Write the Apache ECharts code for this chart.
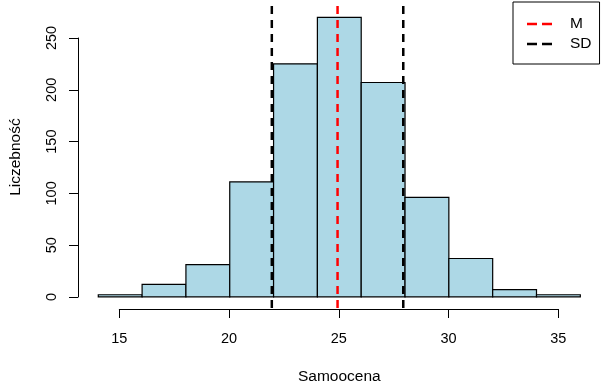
<!DOCTYPE html>
<html>
<head>
<meta charset="utf-8">
<script src="https://cdn.jsdelivr.net/npm/echarts@6/dist/echarts.min.js"></script>
<style>html,body{margin:0;padding:0;background:#fff}#c{width:614px;height:390px}</style>
</head>
<body>
<div id="c"></div>
<script>
// ---- data ----
const binStarts = [14, 16, 18, 20, 22, 24, 26, 28, 30, 32, 34];
const binEnds   = [16, 18, 20, 22, 24, 26, 28, 30, 32, 34, 36];
const counts    = [2, 12, 31, 111, 225, 270, 207, 96, 37, 7, 2];
const xTicks = [15, 20, 25, 30, 35];
const yTicks = [0, 50, 100, 150, 200, 250];
const meanVal = 24.92;
const sdVal = 3.0;
const xTitle = 'Samoocena';
const yTitle = 'Liczebność';
const legendNames = ['M', 'SD'];

// ---- plot ranges (R style 4% extension) ----
const xLo = binStarts[0], xHi = binEnds[binEnds.length - 1];
const yHi = Math.max(...counts);
const xMin = xLo - 0.04 * (xHi - xLo), xMax = xHi + 0.04 * (xHi - xLo);
const yMin = -0.04 * yHi, yMax = yHi + 0.04 * yHi;

const histData = binStarts.map((s, i) => [s, binEnds[i], counts[i]]);
const font = 'Liberation Sans, Arial, sans-serif';
const dashIcon = 'path://M0,0h10v1h-10z M15,0h10v1h-10z';

const chart = echarts.init(document.getElementById('c'), null, {renderer: 'canvas'});
const dash = [8, 6];
const option = {
  animation: false,
  backgroundColor: '#fff',
  grid: [
    {left: 78, right: 14.4, top: 6.1, bottom: 81.8},        // data grid
    {left: 119.3, right: 55.7, top: 290, bottom: 81},        // x-axis display
    {left: 78, right: 14.4, top: 38, bottom: 93}             // y-axis display
  ],
  xAxis: [
    {gridIndex: 0, type: 'value', min: xMin, max: xMax, show: true,
     axisLine: {show: false}, axisTick: {show: false}, axisLabel: {show: false}, splitLine: {show: false},
     name: xTitle, nameLocation: 'middle', nameGap: 61,
     nameTextStyle: {fontFamily: font, fontSize: 15.5, color: '#000'}},
    {gridIndex: 1, type: 'value', min: xTicks[0], max: xTicks[xTicks.length - 1], interval: 5,
     axisLine: {show: true, lineStyle: {color: '#000', width: 1}},
     axisTick: {show: true, length: 9, lineStyle: {color: '#000', width: 1}},
     axisLabel: {show: true, margin: 22, fontFamily: font, fontSize: 14.5, color: '#000'},
     splitLine: {show: false}},
    {gridIndex: 2, type: 'value', show: false, min: 0, max: 1}
  ],
  yAxis: [
    {gridIndex: 0, type: 'value', min: yMin, max: yMax, show: true,
     axisLine: {show: false}, axisTick: {show: false}, axisLabel: {show: false}, splitLine: {show: false},
     name: yTitle, nameLocation: 'middle', nameGap: 55,
     nameTextStyle: {fontFamily: font, fontSize: 15.5, color: '#000'}},
    {gridIndex: 1, type: 'value', show: false, min: 0, max: 1},
    {gridIndex: 2, type: 'value', min: yTicks[0], max: yTicks[yTicks.length - 1], interval: 50,
     axisLine: {show: true, lineStyle: {color: '#000', width: 1}},
     axisTick: {show: true, length: 9, lineStyle: {color: '#000', width: 1}},
     axisLabel: {show: true, rotate: 90, margin: 19, fontFamily: font, fontSize: 14.5, color: '#000'},
     splitLine: {show: false}}
  ],
  legend: {
    show: true, orient: 'vertical', left: 513, top: 2,
    data: legendNames.map(n => ({name: n, icon: dashIcon})),
    itemWidth: 25, itemHeight: 2.5, itemGap: 2, symbolKeepAspect: false,
    padding: [13, 8, 11, 14],
    borderColor: '#000', borderWidth: 1, borderRadius: 0,
    textStyle: {fontFamily: font, fontSize: 15.5, color: '#000', lineHeight: 18, padding: [0, 0, 0, 13]},
    selectedMode: false
  },
  series: [
    {
      type: 'custom', xAxisIndex: 0, yAxisIndex: 0, clip: true,
      data: histData,
      encode: {x: [0, 1], y: 2},
      renderItem: function (params, api) {
        const p0 = api.coord([api.value(0), 0]);
        const p1 = api.coord([api.value(1), api.value(2)]);
        return {
          type: 'rect',
          shape: {x: p0[0], y: p1[1], width: p1[0] - p0[0], height: p0[1] - p1[1]},
          style: {fill: '#ADD8E6', stroke: '#000', lineWidth: 1.2}
        };
      }
    },
    {
      name: 'SD', type: 'line', xAxisIndex: 0, yAxisIndex: 0, symbol: 'none', z: 5,
      data: [[meanVal - sdVal, yMin], [meanVal - sdVal, yMax]],
      lineStyle: {color: '#000', width: 2.5, type: dash}, itemStyle: {color: '#000'}
    },
    {
      name: 'SD', type: 'line', xAxisIndex: 0, yAxisIndex: 0, symbol: 'none', z: 5,
      data: [[meanVal + sdVal, yMin], [meanVal + sdVal, yMax]],
      lineStyle: {color: '#000', width: 2.5, type: dash}, itemStyle: {color: '#000'}
    },
    {
      name: 'M', type: 'line', xAxisIndex: 0, yAxisIndex: 0, symbol: 'none', z: 5,
      data: [[meanVal, yMin], [meanVal, yMax]],
      lineStyle: {color: '#FF0000', width: 2.5, type: dash}, itemStyle: {color: '#FF0000'}
    }
  ]
};
chart.setOption(option);
</script>
</body>
</html>
